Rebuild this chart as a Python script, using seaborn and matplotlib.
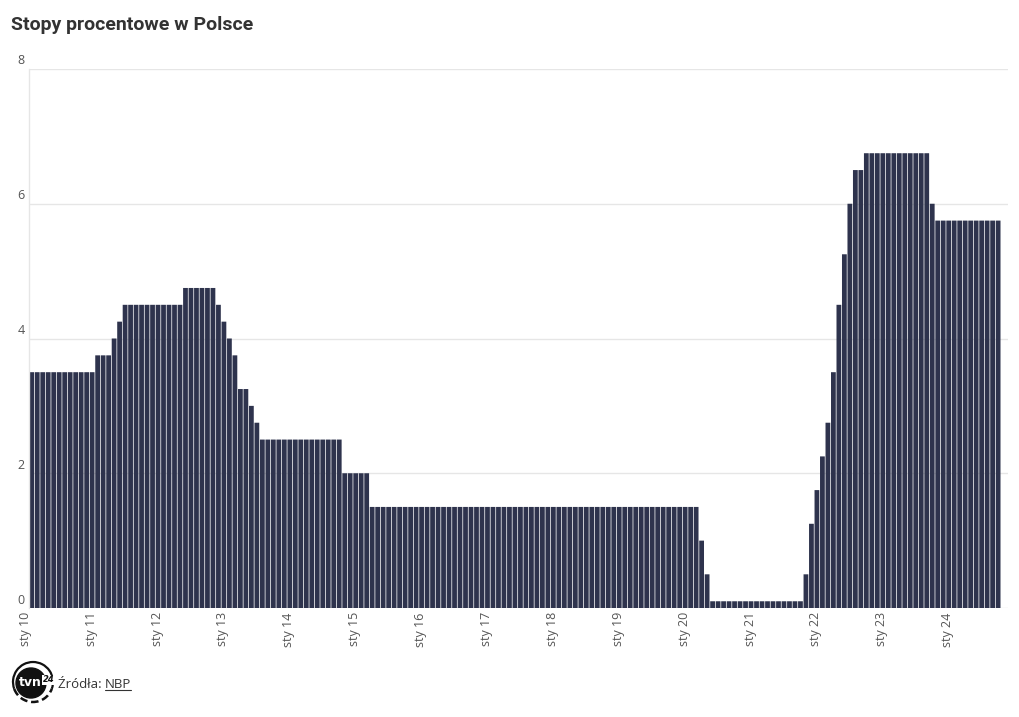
import numpy as np
import pandas as pd
import matplotlib
matplotlib.use("Agg")
import matplotlib.pyplot as plt
import matplotlib.transforms as mtransforms
from matplotlib.patches import Circle, Arc
import seaborn as sns

# NBP reference rate, value at the end of each month (Jan 2010 - Sep 2024)
rates_2010 = [3.5, 3.5, 3.5, 3.5, 3.5, 3.5, 3.5, 3.5, 3.5, 3.5, 3.5, 3.5]
rates_2011 = [3.75, 3.75, 3.75, 4.0, 4.25, 4.5, 4.5, 4.5, 4.5, 4.5, 4.5, 4.5]
rates_2012 = [4.5, 4.5, 4.5, 4.5, 4.75, 4.75, 4.75, 4.75, 4.75, 4.75, 4.5, 4.25]
rates_2013 = [4.0, 3.75, 3.25, 3.25, 3.0, 2.75, 2.5, 2.5, 2.5, 2.5, 2.5, 2.5]
rates_2014 = [2.5, 2.5, 2.5, 2.5, 2.5, 2.5, 2.5, 2.5, 2.5, 2.0, 2.0, 2.0]
rates_2015 = [2.0, 2.0, 1.5, 1.5, 1.5, 1.5, 1.5, 1.5, 1.5, 1.5, 1.5, 1.5]
rates_2016 = [1.5, 1.5, 1.5, 1.5, 1.5, 1.5, 1.5, 1.5, 1.5, 1.5, 1.5, 1.5]
rates_2017 = [1.5, 1.5, 1.5, 1.5, 1.5, 1.5, 1.5, 1.5, 1.5, 1.5, 1.5, 1.5]
rates_2018 = [1.5, 1.5, 1.5, 1.5, 1.5, 1.5, 1.5, 1.5, 1.5, 1.5, 1.5, 1.5]
rates_2019 = [1.5, 1.5, 1.5, 1.5, 1.5, 1.5, 1.5, 1.5, 1.5, 1.5, 1.5, 1.5]
rates_2020 = [1.5, 1.5, 1.0, 0.5, 0.1, 0.1, 0.1, 0.1, 0.1, 0.1, 0.1, 0.1]
rates_2021 = [0.1, 0.1, 0.1, 0.1, 0.1, 0.1, 0.1, 0.1, 0.1, 0.5, 1.25, 1.75]
rates_2022 = [2.25, 2.75, 3.5, 4.5, 5.25, 6.0, 6.5, 6.5, 6.75, 6.75, 6.75, 6.75]
rates_2023 = [6.75, 6.75, 6.75, 6.75, 6.75, 6.75, 6.75, 6.75, 6.0, 5.75, 5.75, 5.75]
rates_2024 = [5.75, 5.75, 5.75, 5.75, 5.75, 5.75, 5.75, 5.75, 5.75]

tick_labels = ["sty 10", "sty 11", "sty 12", "sty 13", "sty 14", "sty 15", "sty 16",
               "sty 17", "sty 18", "sty 19", "sty 20", "sty 21", "sty 22", "sty 23", "sty 24"]
y_ticks = [0, 2, 4, 6, 8]

rates = (rates_2010 + rates_2011 + rates_2012 + rates_2013 + rates_2014 + rates_2015
         + rates_2016 + rates_2017 + rates_2018 + rates_2019 + rates_2020 + rates_2021
         + rates_2022 + rates_2023 + rates_2024)
df = pd.DataFrame({"month": np.arange(len(rates)), "rate": rates})

BAR = "#2e334d"
TXT = "#555555"

sns.set_theme(style="white")
plt.rcParams["font.family"] = ["Open Sans", "DejaVu Sans"]

fig = plt.figure(figsize=(10.2, 7.17), dpi=100)
ax = fig.add_axes([29 / 1020, 1 - 608 / 717, (1008 - 29) / 1020, (608 - 69) / 717])

sns.barplot(data=df, x="month", y="rate", color=BAR, saturation=1, width=0.87,
            linewidth=0, errorbar=None, ax=ax)
# no pixel snapping, so every gap comes out as an even thin light stripe
for p in ax.patches:
    p.set_snap(False)

ax.set_xlim(-0.5, 177.8)
ax.set_ylim(0, 8)
ax.set_xlabel("")
ax.set_ylabel("")

# grid
ax.set_yticks(y_ticks)
ax.set_yticklabels([])
ax.yaxis.grid(True, color="#e6e6e6", lw=1)
ax.set_axisbelow(True)
for s in ["top", "right", "bottom"]:
    ax.spines[s].set_visible(False)
ax.spines["left"].set_color("#e6e6e6")
ax.spines["left"].set_linewidth(1)

# y labels sit a little above their gridlines
ytrans = mtransforms.offset_copy(
    mtransforms.blended_transform_factory(ax.transAxes, ax.transData),
    fig=fig, x=-4, y=8, units="dots")
for v in y_ticks:
    ax.text(0, v, str(v), transform=ytrans, ha="right", va="center",
            fontsize=9, color=TXT)

ax.set_xticks(np.arange(0, len(rates), 12))
ax.set_xticklabels(tick_labels, rotation=90, ha="right", va="top",
                   fontsize=9, color=TXT)
ax.tick_params(axis="both", length=0, pad=3)

# title
fig.text(11 / 1020, 1 - 25 / 717, "Stopy procentowe w Polsce", fontsize=14,
         fontweight="bold", family="Roboto", color="#333333", va="center")

# logo
lax = fig.add_axes([10 / 1020, 1 - 705 / 717, 46 / 1020, 46 / 717])
lax.set_xlim(0, 46)
lax.set_ylim(0, 46)
lax.set_aspect("equal")
lax.axis("off")
lax.add_patch(Circle((21, 22), 15, color="#111111"))
lax.add_patch(Arc((23, 23), 40, 40, theta1=-20, theta2=200, color="#111111", lw=1.6))
lax.add_patch(Arc((23, 23), 40, 40, theta1=200, theta2=340, color="#111111", lw=1.8,
                  ls=(0, (3, 1.5))))
lax.text(20, 22, "tvn", color="white", fontsize=9, fontweight="bold",
         ha="center", va="center", family="DejaVu Sans")
lax.text(39, 25, "24", color="#111111", fontsize=6, fontweight="bold",
         style="italic", ha="center", va="center", family="DejaVu Sans",
         bbox=dict(boxstyle="square,pad=0.1", fc="white", ec="none"))

# source line
src = fig.text(58 / 1020, 1 - 684 / 717, "Źródła: ", fontsize=9.5, color="#333333",
               va="center")
fig.canvas.draw()
r = fig.canvas.get_renderer()
bb = src.get_window_extent(r)
x1 = bb.x1 / fig.bbox.width
nbp = fig.text(x1, 1 - 684 / 717, "NBP", fontsize=9.5, color="#333333", va="center")
bb2 = nbp.get_window_extent(r)
uy = (bb2.y0 + 1) / fig.bbox.height
fig.add_artist(plt.Line2D([bb2.x0 / fig.bbox.width, bb2.x1 / fig.bbox.width], [uy, uy],
                          color="#333333", lw=0.8))

fig.savefig("out.png", dpi=100)
